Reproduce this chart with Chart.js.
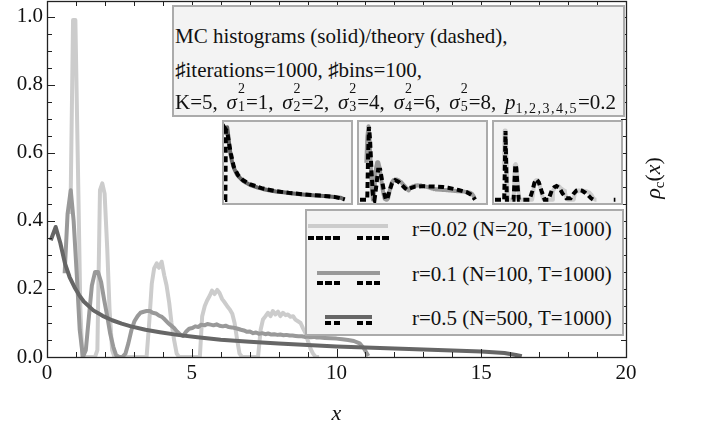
<!DOCTYPE html>
<html>
<head>
<meta charset="utf-8">
<script src="https://cdn.jsdelivr.net/npm/chart.js@4.4.1/dist/chart.umd.min.js"></script>
<style>
  html, body { margin: 0; padding: 0; background: #fff; }
  #wrap { position: relative; width: 701px; height: 428px; font-family: "Liberation Serif", "DejaVu Serif", serif; color: #111; }
  #main { position: absolute; left: 0; top: 0; }
  .box { position: absolute; background: #f3f3f3; border: 2px solid #ababab; box-sizing: border-box; }
  .line { position: absolute; left: 175px; font-size: 21px; line-height: 21px; white-space: nowrap; }
  .l3 { word-spacing: 3.5px; }
  .ss { position: relative; display: inline-block; width: 9px; height: 10px; }
  .ss span { position: absolute; left: 1px; font-size: 14px; line-height: 14px; }
  .ss .up { top: -17px; }
  .ss .dn { top: 1px; }
  .sub { font-size: 14px; letter-spacing: 1.5px; vertical-align: -4px; }
  .inset canvas { position: absolute; left: 0; top: 0; }
  .lab { position: absolute; left: 412px; font-size: 21px; line-height: 21px; white-space: nowrap; }
  .solid { position: absolute; height: 4px; }
  .dash { position: absolute; height: 4px; background: repeating-linear-gradient(90deg, #000 0 6px, transparent 6px 8.5px); }
  #ylab { position: absolute; left: 654px; top: 178px; transform: translate(-50%, -50%) rotate(-90deg); font-size: 22px; white-space: nowrap; }
  #ylab sub { font-size: 15px; vertical-align: -4px; }
</style>
</head>
<body>
<div id="wrap">
  <canvas id="main" width="701" height="428"></canvas>

  <div class="box" style="left:172px;top:5px;width:453px;height:112px;"></div>
  <div class="line" style="top:26px;">MC histograms (solid)/theory (dashed),</div>
  <div class="line" style="top:60px;">♯iterations=1000, ♯bins=100,</div>
  <div class="line l3" style="top:92px;">K=5, <i>σ</i><span class="ss"><span class="up">2</span><span class="dn">1</span></span>=1, <i>σ</i><span class="ss"><span class="up">2</span><span class="dn">2</span></span>=2, <i>σ</i><span class="ss"><span class="up">2</span><span class="dn">3</span></span>=4, <i>σ</i><span class="ss"><span class="up">2</span><span class="dn">4</span></span>=6, <i>σ</i><span class="ss"><span class="up">2</span><span class="dn">5</span></span>=8, <i>p</i><span class="sub">1,2,3,4,5</span>=0.2</div>

  <div class="box inset" style="left:222px;top:120px;width:131px;height:85px;"><canvas id="in1" width="127" height="81"></canvas></div>
  <div class="box inset" style="left:357px;top:120px;width:131px;height:85px;"><canvas id="in2" width="127" height="81"></canvas></div>
  <div class="box inset" style="left:492px;top:120px;width:131px;height:85px;"><canvas id="in3" width="127" height="81"></canvas></div>

  <div class="box" style="left:305px;top:209px;width:319px;height:127px;"></div>
  <div class="solid" style="left:308px;top:224px;width:80px;background:#cccccc;"></div>
  <div class="dash" style="left:308px;top:236px;width:33px;"></div>
  <div class="dash" style="left:357px;top:236px;width:32px;"></div>
  <div class="lab" style="top:219px;">r=0.02 (N=20, T=1000)</div>
  <div class="solid" style="left:317px;top:271px;width:63px;background:#999999;"></div>
  <div class="dash" style="left:317px;top:281px;width:24px;"></div>
  <div class="dash" style="left:357px;top:281px;width:24px;"></div>
  <div class="lab" style="top:264px;">r=0.1 (N=100, T=1000)</div>
  <div class="solid" style="left:325px;top:315px;width:47px;background:#666666;"></div>
  <div class="dash" style="left:325px;top:321px;width:15px;"></div>
  <div class="dash" style="left:357px;top:321px;width:15px;"></div>
  <div class="lab" style="top:308px;">r=0.5 (N=500, T=1000)</div>

  <div id="ylab"><i>ρ</i><sub>c</sub>(<i>x</i>)</div>
</div>

<script>
// MC histograms
const xR002 = [0.81, 0.90, 0.98, 1.07, 1.15, 1.22, 1.3, 1.66, 1.74, 1.83, 1.91, 1.99, 2.08, 2.16, 2.25, 2.33, 3.44,
  3.53, 3.62, 3.70, 3.79, 3.87, 3.96, 4.05, 4.13, 4.22, 4.30, 4.39, 4.48, 4.56, 5.28, 5.36, 5.45, 5.53, 5.62, 5.70,
  5.79, 5.88, 5.96, 6.05, 6.14, 6.22, 6.31, 6.40, 6.48, 6.57, 6.65, 6.74, 7.29, 7.38, 7.46, 7.55, 7.63, 7.72, 7.80,
  7.89, 7.98, 8.06, 8.15, 8.24, 8.32, 8.41, 8.50, 8.58, 8.67, 8.76, 8.84, 8.93, 9.02, 9.10, 9.19, 9.28, 9.40];
const yR002 = [0.42, 0.99, 0.99, 0.55, 0.15, 0, 0, 0, 0.02, 0.49, 0.51, 0.48, 0.32, 0.14, 0.02, 0, 0,
  0.10, 0.216, 0.26, 0.275, 0.262, 0.28, 0.24, 0.21, 0.16, 0.10, 0.05, 0.01, 0, 0, 0.12, 0.15, 0.166, 0.18, 0.195,
  0.185, 0.197, 0.188, 0.17, 0.16, 0.15, 0.14, 0.127, 0.10, 0.05, 0.01, 0, 0, 0.08, 0.11, 0.12, 0.13, 0.12, 0.135,
  0.125, 0.133, 0.12, 0.13, 0.123, 0.125, 0.118, 0.12, 0.11, 0.105, 0.10, 0.085, 0.07, 0.045, 0.025, 0.01, 0, 0];

const xR01 = [0.61, 0.71, 0.82, 0.92, 1.03, 1.13, 1.24, 1.34, 1.45, 1.55, 1.66, 1.76, 1.87, 1.97, 2.08, 2.18, 2.29,
  2.39, 2.50, 2.60, 2.71, 2.81, 2.92, 3.02, 3.13, 3.23, 3.34, 3.44, 3.55, 3.65, 3.76, 3.86, 3.97, 4.07, 4.18, 4.28,
  4.39, 4.49, 4.60, 4.70, 4.81, 4.91, 5.02, 5.12, 5.23, 5.33, 5.44, 5.54, 5.65, 5.75, 5.86, 5.96, 6.07, 6.17, 6.28,
  6.38, 6.49, 6.59, 6.70, 6.80, 6.91, 7.01, 7.12, 7.22, 7.33, 7.43, 7.54, 7.64, 7.75, 7.85, 7.96, 8.06, 8.17, 8.27,
  8.38, 8.48, 8.59, 8.69, 8.80, 8.90, 9.01, 9.11, 9.22, 9.32, 9.43, 9.60, 9.80, 10.0, 10.2, 10.4, 10.6, 10.8, 10.95, 11.1];
const yR01 = [0.246, 0.42, 0.49, 0.40, 0.24, 0.08, 0, 0.02, 0.12, 0.21, 0.25, 0.25, 0.22, 0.17, 0.12, 0.07, 0.03,
  0.005, 0, 0, 0.01, 0.04, 0.08, 0.105, 0.12, 0.13, 0.133, 0.135, 0.135, 0.13, 0.128, 0.122, 0.118, 0.11, 0.10, 0.093,
  0.085, 0.075, 0.066, 0.062, 0.075, 0.083, 0.085, 0.09, 0.088, 0.095, 0.093, 0.097, 0.095, 0.093, 0.096, 0.092, 0.09, 0.092, 0.088,
  0.087, 0.085, 0.083, 0.08, 0.078, 0.074, 0.075, 0.07, 0.072, 0.068, 0.07, 0.067, 0.069, 0.066, 0.067, 0.065, 0.066, 0.064, 0.065,
  0.063, 0.063, 0.062, 0.061, 0.061, 0.059, 0.06, 0.058, 0.059, 0.057, 0.057, 0.056, 0.055, 0.054, 0.052, 0.05, 0.047, 0.04, 0.025, 0.003];

const xR05 = [0.13, 0.30, 0.46, 0.62, 0.78, 0.95, 1.11, 1.27, 1.6, 1.92, 2.25, 2.58, 2.9, 3.4, 3.9, 4.5, 5.2, 6, 7, 8, 9,
  10, 11, 12, 13, 14, 15, 15.8, 16.2, 16.4];
const yR05 = [0.343, 0.382, 0.335, 0.275, 0.235, 0.205, 0.182, 0.163, 0.137, 0.121, 0.108, 0.098, 0.09, 0.08, 0.073,
  0.065, 0.058, 0.051, 0.045, 0.04, 0.035, 0.031, 0.028, 0.025, 0.022, 0.019, 0.016, 0.012, 0.006, 0.002];

// theory curves
const xT002 = [0, 0.85, 0.92, 0.97, 1.03, 1.1, 1.72, 1.8, 1.88, 1.97, 2.06, 2.2, 3.2, 3.45, 3.65, 3.85, 4.05, 4.3, 4.6,
  4.95, 5.25, 5.5, 5.7, 5.95, 6.25, 6.6, 7.0, 7.3, 7.55, 7.75, 8.05, 8.35, 8.65, 8.9, 9.1, 10.0, 11.0, 11.15];
const yT002 = [0, 0, 0.5, 0.98, 0.55, 0, 0, 0.25, 0.5, 0.45, 0.25, 0, 0, 0.12, 0.24, 0.29, 0.25, 0.13, 0,
  0, 0.13, 0.18, 0.196, 0.17, 0.09, 0.02, 0.02, 0.09, 0.13, 0.14, 0.13, 0.1, 0.06, 0.02, 0, null, 0, 0];

const xT01 = [0, 0.7, 0.78, 0.87, 0.97, 1.1, 1.25, 1.4, 1.55, 1.75, 1.95, 2.15, 2.35, 2.5, 2.65, 2.85, 3.1, 3.4, 3.7,
  4.0, 4.3, 4.5, 4.8, 5.3, 6, 7, 8, 8.5, 9.5, 10.3, 10.8, 11.1];
const yT01 = [0, 0, 0.3, 0.485, 0.4, 0.2, 0.03, 0, 0.08, 0.2, 0.2, 0.12, 0.04, 0, 0.01, 0.06, 0.11, 0.13, 0.12,
  0.1, 0.08, 0.068, 0.075, 0.087, 0.09, 0.088, 0.085, 0.08, 0.065, 0.05, 0.03, 0];

const xT05 = [0, 0.05, 0.12, 0.3, 0.5, 0.8, 1.2, 1.8, 2.5, 3.5, 5, 7, 9, 11, 13, 15, 16.4];
const yT05 = [0, 0, 0.37, 0.36, 0.31, 0.245, 0.175, 0.13, 0.103, 0.082, 0.062, 0.046, 0.036, 0.029, 0.023, 0.016, 0.003];

const xTicks = [0, 5, 10, 15, 20];
const yTicks = [0, 0.2, 0.4, 0.6, 0.8, 1.0];

const serif = '"Liberation Serif", "DejaVu Serif", serif';

function pts(xs, ys) {
    return xs.map((x, i) => ({x: x, y: ys[i]}));
}

function isMajor(v, list) {
    return list.some(t => Math.abs(t - v) < 1e-6);
}

// frame with inward ticks on all four sides
const frameTicks = {
    id: 'frameTicks',
    afterDatasetsDraw(chart) {
        const {ctx, chartArea: a, scales: {x, y}} = chart;
        ctx.save();
        ctx.strokeStyle = '#222';
        ctx.lineWidth = 1;
        ctx.beginPath();
        x.ticks.forEach(t => {
            const px = Math.round(x.getPixelForValue(t.value)) + 0.5;
            const len = isMajor(t.value, xTicks) ? 8 : 5;
            ctx.moveTo(px, a.bottom); ctx.lineTo(px, a.bottom - len);
            ctx.moveTo(px, a.top); ctx.lineTo(px, a.top + len);
        });
        y.ticks.forEach(t => {
            const py = Math.round(y.getPixelForValue(t.value)) + 0.5;
            const len = isMajor(t.value, yTicks) ? 8 : 5;
            ctx.moveTo(a.left, py); ctx.lineTo(a.left + len, py);
            ctx.moveTo(a.right, py); ctx.lineTo(a.right - len, py);
        });
        ctx.stroke();
        ctx.lineWidth = 1.3;
        ctx.strokeRect(Math.round(a.left) + 0.5, Math.round(a.top) + 0.5, Math.round(a.width), Math.round(a.height));
        ctx.restore();
    }
};

const line = (data, color, width) => ({
    data: data, borderColor: color, borderWidth: width, pointRadius: 0,
    borderJoinStyle: 'round', tension: 0, fill: false
});

new Chart(document.getElementById('main'), {
    type: 'line',
    data: {
        datasets: [
            line(pts(xR05, yR05), '#666666', 4),
            line(pts(xR01, yR01), '#999999', 4),
            line(pts(xR002, yR002), '#cccccc', 4)
        ]
    },
    options: {
        responsive: false,
        animation: false,
        events: [],
        layout: {padding: {left: 0, right: 75, top: 1, bottom: 1}},
        scales: {
            x: {
                type: 'linear', min: 0, max: 20,
                border: {display: false},
                grid: {display: false, tickLength: 0},
                ticks: {
                    stepSize: 1, autoSkip: false, maxRotation: 0, padding: 4,
                    color: '#111', font: {family: serif, size: 21},
                    callback: v => isMajor(v, xTicks) ? String(v) : ''
                },
                title: {
                    display: true, text: 'x', color: '#111',
                    font: {family: serif, size: 22, style: 'italic'},
                    padding: {top: 14, bottom: 0}
                },
                afterFit(scale) {
                    scale.height = 70;
                    scale.paddingLeft = 0;
                    scale.paddingRight = 0;
                }
            },
            y: {
                min: 0, max: 1.046,
                border: {display: false},
                grid: {display: false, tickLength: 0},
                ticks: {
                    stepSize: 0.05, includeBounds: false, autoSkip: false, padding: 4,
                    color: '#111', font: {family: serif, size: 21},
                    callback: v => isMajor(v, yTicks) ? v.toFixed(1) : ''
                },
                afterFit(scale) {
                    scale.width = 47;
                    scale.paddingTop = 0;
                    scale.paddingBottom = 0;
                }
            }
        },
        plugins: {legend: {display: false}, tooltip: {enabled: false}}
    },
    plugins: [frameTicks]
});

function makeInset(id, hx, hy, tx, ty, color, xr, yr) {
    new Chart(document.getElementById(id), {
        type: 'line',
        data: {
            datasets: [
                Object.assign(line(pts(tx, ty), '#000', 4), {borderDash: [6, 3.5], borderJoinStyle: 'miter', spanGaps: false}),
                line(pts(hx, hy), color, 4)
            ]
        },
        options: {
            responsive: false,
            animation: false,
            events: [],
            layout: {padding: 0},
            scales: {
                x: {type: 'linear', display: false, min: xr[0], max: xr[1]},
                y: {display: false, min: yr[0], max: yr[1]}
            },
            plugins: {legend: {display: false}, tooltip: {enabled: false}}
        }
    });
}

makeInset('in1', xR05, yR05, xT05, yT05, '#666666', [-0.137, 17.26], [-0.016, 0.41]);
makeInset('in2', xR01, yR01, xT01, yT01, '#999999', [-0.097, 12.16], [-0.022, 0.518]);
makeInset('in3', xR002, yR002, xT002, yT002, '#cccccc', [-0.093, 11.67], [-0.047, 1.11]);
</script>
</body>
</html>
